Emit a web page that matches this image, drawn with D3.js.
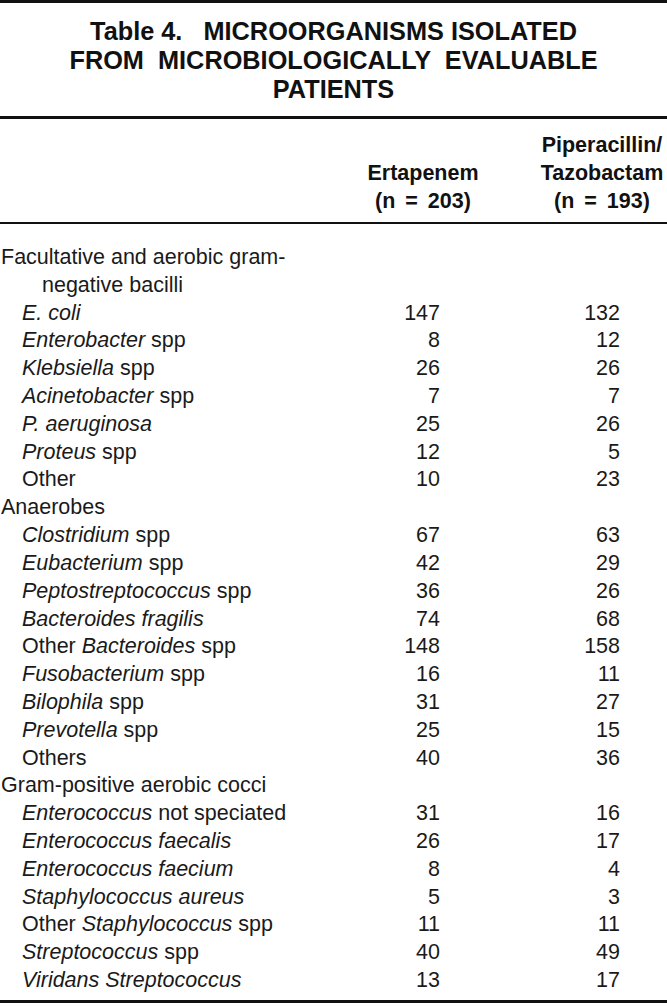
<!DOCTYPE html>
<html>
<head>
<meta charset="utf-8">
<script src="https://cdn.jsdelivr.net/npm/d3@7"></script>
<style>
  html, body { margin: 0; padding: 0; background: #fff; }
  svg { display: block; }
</style>
</head>
<body>
<div id="table"></div>
<script>
// Table 4 - microorganisms isolated, drawn as an svg table with d3

const titleLines = [
  "Table 4.   MICROORGANISMS ISOLATED",
  "FROM  MICROBIOLOGICALLY  EVALUABLE",
  "PATIENTS"
];

// header lines for the two value columns
const colHeads = [
  ["", "Piperacillin/"],
  ["Ertapenem", "Tazobactam"],
  ["(n = 203)", "(n = 193)"]
];

// *word* marks italic text
const rowLabels = [
  "Facultative and aerobic gram-",
  "negative bacilli",
  "*E. coli*",
  "*Enterobacter* spp",
  "*Klebsiella* spp",
  "*Acinetobacter* spp",
  "*P. aeruginosa*",
  "*Proteus* spp",
  "Other",
  "Anaerobes",
  "*Clostridium* spp",
  "*Eubacterium* spp",
  "*Peptostreptococcus* spp",
  "*Bacteroides fragilis*",
  "Other *Bacteroides* spp",
  "*Fusobacterium* spp",
  "*Bilophila* spp",
  "*Prevotella* spp",
  "Others",
  "Gram-positive aerobic cocci",
  "*Enterococcus* not speciated",
  "*Enterococcus faecalis*",
  "*Enterococcus faecium*",
  "*Staphylococcus aureus*",
  "Other *Staphylococcus* spp",
  "*Streptococcus* spp",
  "*Viridans Streptococcus*"
];
// 0 = group, 1 = item, 2 = wrapped group line
const rowLevel = [0, 2, 1, 1, 1, 1, 1, 1, 1, 0, 1, 1, 1, 1, 1, 1, 1, 1, 1, 0, 1, 1, 1, 1, 1, 1, 1];

const ertapenem = [null, null, 147, 8, 26, 7, 25, 12, 10, null, 67, 42, 36, 74, 148, 16, 31, 25, 40, null, 31, 26, 8, 5, 11, 40, 13];
const pipTazo   = [null, null, 132, 12, 26, 7, 26, 5, 23, null, 63, 29, 26, 68, 158, 11, 27, 15, 36, null, 16, 17, 4, 3, 11, 49, 17];

const W = 667, H = 1007;
const ink = "#1a1a1a";
const bodyFont = "'Liberation Sans', Arial, sans-serif";

const svg = d3.select("#table").append("svg")
  .attr("width", W).attr("height", H);

// horizontal rules
const rules = [
  { y: 1.5, w: 3 },
  { y: 117.5, w: 3 },
  { y: 223, w: 2 },
  { y: 1001.5, w: 3 }
];
svg.selectAll(".rule").data(rules).enter().append("line")
  .attr("class", "rule")
  .attr("x1", 0).attr("x2", W)
  .attr("y1", d => d.y).attr("y2", d => d.y)
  .attr("stroke", "#111").attr("stroke-width", d => d.w);

// title
const titleY = d3.scalePoint().domain(d3.range(titleLines.length)).range([40, 98]);
svg.selectAll(".title").data(titleLines).enter().append("text")
  .attr("class", "title")
  .attr("transform", (d, i) => `translate(${W / 2},${titleY(i)}) scale(0.955,1)`)
  .attr("text-anchor", "middle")
  .attr("font-family", bodyFont)
  .attr("font-weight", "bold")
  .attr("font-size", 26.5)
  .attr("fill", "#111")
  .style("white-space", "pre")
  .text(d => d);

// column positions
const colRight = d3.scaleOrdinal().domain([0, 1]).range([440, 620]);
const colCenter = d3.scaleOrdinal().domain([0, 1]).range([423, 602]);
const headY = d3.scalePoint().domain(d3.range(colHeads.length)).range([152, 208]);

colHeads.forEach((line, li) => {
  svg.selectAll(".head" + li).data(line).enter().append("text")
    .attr("x", (d, i) => colCenter(i))
    .attr("y", headY(li))
    .attr("text-anchor", "middle")
    .attr("font-family", bodyFont)
    .attr("font-weight", "bold")
    .attr("font-size", 21.5)
    .attr("word-spacing", 4)
    .attr("fill", "#111")
    .style("white-space", "pre")
    .text(d => d);
});

// body rows
const rowY = d3.scalePoint().domain(d3.range(rowLabels.length)).range([264, 987]);
const indentX = d3.scaleOrdinal().domain([0, 1, 2]).range([1, 22, 42]);

const labels = svg.selectAll(".label").data(rowLabels).enter().append("text")
  .attr("class", "label")
  .attr("x", (d, i) => indentX(rowLevel[i]))
  .attr("y", (d, i) => rowY(i))
  .attr("font-family", bodyFont)
  .attr("font-size", 21.5)
  .attr("fill", ink)
  .style("white-space", "pre");

labels.each(function(d) {
  const parts = d.split("*").map((t, k) => ({ t: t, it: k % 2 === 1 }))
    .filter(p => p.t.length);
  d3.select(this).selectAll("tspan").data(parts)
    .enter().append("tspan")
    .attr("font-style", p => p.it ? "italic" : "normal")
    .text(p => p.t);
});

[ertapenem, pipTazo].forEach((vals, ci) => {
  const cells = vals.map((v, i) => ({ v: v, row: i })).filter(c => c.v != null);
  svg.selectAll(".val" + ci).data(cells).enter()
    .append("text")
    .attr("x", colRight(ci))
    .attr("y", c => rowY(c.row))
    .attr("text-anchor", "end")
    .attr("font-family", bodyFont)
    .attr("font-size", 21.5)
    .attr("fill", ink)
    .text(c => c.v);
});
</script>
</body>
</html>
